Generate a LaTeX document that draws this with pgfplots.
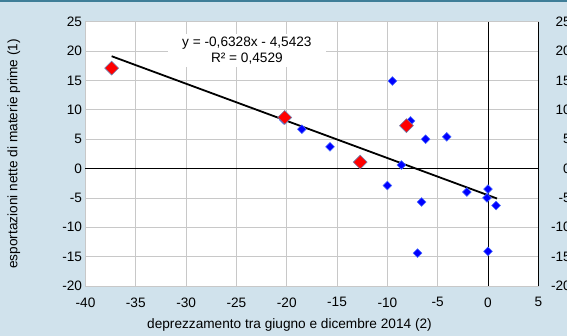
\documentclass[border=0pt]{standalone}
\usepackage{pgfplots}
\pgfplotsset{compat=1.18}
\usepackage{pgfplotstable}
\usepackage{fontspec}
\setmainfont{Liberation Sans}
\usetikzlibrary{backgrounds}
\definecolor{bgblue}{HTML}{D0E2EC}
\definecolor{topline}{HTML}{3F7E98}
\definecolor{gridgray}{HTML}{C8C8C8}
\definecolor{rededge}{HTML}{7080B0}
\definecolor{blueedge}{HTML}{4A6CFF}

\pgfplotstableread{
x y
-18.5 6.7
-20.3 8.3
-15.7 3.7
-9.5 14.9
-7.7 8.1
-6.2 5.0
-4.1 5.4
-8.6 0.6
-10.0 -2.9
-2.1 -4.0
0.0 -3.5
-0.1 -5.0
0.8 -6.3
-6.6 -5.7
-7.0 -14.4
0.0 -14.1
}\bluedata
\pgfplotstableread{
x y
-37.4 17.1
-20.2 8.7
-12.7 1.1
-8.1 7.3
}\reddata

\begin{document}
\begin{tikzpicture}[font=\fontsize{13.7}{16.4}\selectfont]
\begin{axis}[
  name=main,
  scale only axis, width=452.8bp, height=264.3bp,
  xmin=-40, xmax=5, ymin=-20, ymax=25,
  xtick={-40,-35,...,5},
  xticklabels={-40,-35,-30,-25,-20,-15,-10,-5,0,5},
  ytick={-20,-15,...,25},
  yticklabels={-20,-15,-10,-5,0,5,10,15,20,25},
  xticklabel style={yshift=-8bp},
  grid=major,
  grid style={gridgray, line width=0.7bp},
  axis line style={gridgray, line width=0.8bp},
  tick style={draw=none},
  axis background/.style={fill=white},
  xlabel={deprezzamento tra giugno e dicembre 2014 (2)},
  ylabel={esportazioni nette di materie prime (1)},
  xlabel style={at={(axis description cs:0.4505,-0.1476)}, anchor=center},
  ylabel style={at={(axis description cs:-0.158,0.5)}, anchor=center},
  clip=false,
]
\addplot[black, line width=0.9bp] coordinates {(-40,0) (5,0)};
\addplot[black, line width=0.9bp] coordinates {(0,-20) (0,25)};
\addplot[black, line width=1.8bp] coordinates {(-37.4,19.12) (0.9,-5.11)};
\addplot[only marks, mark=square*, mark size=3.1bp,
  mark options={rotate=45, fill=blue, draw=blueedge, line width=0.5bp}] table {\bluedata};
\addplot[only marks, mark=square*, mark size=4.9bp,
  mark options={rotate=45, fill=red, draw=rededge, line width=0.6bp}] table {\reddata};
\node[fill=white, align=center, inner xsep=14bp, inner ysep=3bp] at (axis cs:-23.96,20.1)
  {y = -0,6328x - 4,5423\\R² = 0,4529};
\coordinate (bl) at (rel axis cs:0,0);
\coordinate (tr) at (rel axis cs:1,1);
\end{axis}
\begin{axis}[
  scale only axis, width=452.8bp, height=264.3bp,
  xmin=-40, xmax=5, ymin=-20, ymax=25,
  axis x line=none, axis y line*=right,
  ytick={-20,-15,...,25},
  yticklabels={-20,-15,-10,-5,0,5,10,15,20,25},
  yticklabel style={anchor=east, xshift=36bp},
  axis line style={black, line width=0.9bp},
  tick style={draw=none},
]
\end{axis}
\coordinate (BL) at ([xshift=-85.5bp,yshift=-50bp]bl);
\coordinate (TR) at ([xshift=28.7bp,yshift=21.7bp]tr);
\pgfresetboundingbox
\path[use as bounding box] (BL) rectangle (TR);
\begin{scope}[on background layer]
\fill[bgblue] (BL) rectangle (TR);
\fill[topline] (BL|-TR) rectangle ([yshift=-2.5bp]TR);
\end{scope}
\end{tikzpicture}
\end{document}
